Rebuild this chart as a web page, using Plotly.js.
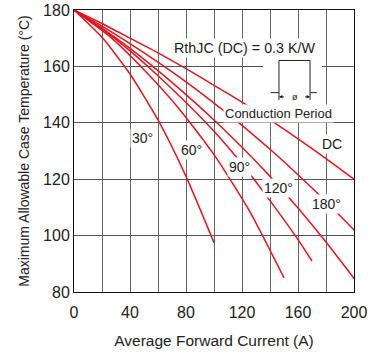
<!DOCTYPE html>
<html>
<head>
<meta charset="utf-8">
<script src="https://cdn.plot.ly/plotly-3.0.1.min.js"></script>
<style>
  html, body { margin: 0; padding: 0; background: #fff; }
  #chart { width: 368px; height: 353px; }
</style>
</head>
<body>
<div id="chart"></div>
<script>
// Average forward current (A) and max allowable case temperature (°C) per conduction angle
const x30 = [0, 20, 40, 60, 80, 100];
const y30 = [180, 170.3, 157.3, 141, 121, 97.5];

const x60 = [0, 25, 50, 75, 100, 125, 150];
const y60 = [180, 170.8, 158.8, 145, 128.7, 109, 85];

const x90 = [0, 20, 40, 60, 80, 100, 120, 140, 160, 170];
const y90 = [180, 173.3, 165.5, 156.7, 147.2, 137, 125.4, 112.4, 98.6, 91];

const x120 = [0, 20, 40, 60, 80, 100, 120, 140, 160, 180, 200];
const y120 = [180, 173.6, 166.4, 158.5, 150, 141, 131.3, 121, 109.8, 97.7, 84.8];

const x180 = [0, 20, 40, 60, 80, 100, 120, 140, 160, 180, 200];
const y180 = [180, 174.3, 168.1, 161.5, 154.5, 147, 139.1, 130.6, 121.6, 112.1, 102];

const xDC = [0, 20, 40, 60, 80, 100, 120, 140, 160, 180, 200];
const yDC = [180, 175.2, 170, 164.8, 159.2, 153.3, 147.3, 141, 134.3, 127.3, 120];

const seriesNames = ["30°", "60°", "90°", "120°", "180°", "DC"];
const xTicks = [0, 40, 80, 120, 160, 200];
const yTicks = [80, 100, 120, 140, 160, 180];

const curveColor = "#e2141f";
const font = "Liberation Sans, Arial, sans-serif";

const xs = [x30, x60, x90, x120, x180, xDC];
const ys = [y30, y60, y90, y120, y180, yDC];
const traces = xs.map((xv, i) => ({
  x: xv, y: ys[i], name: seriesNames[i], type: "scatter", mode: "lines",
  line: { color: curveColor, width: 1.5, shape: "spline", smoothing: 0.6 },
  hoverinfo: "skip"
}));

// label annotations (text with white boxes)
const labels = [
  { text: "30°", x: 48.6, y: 134.6 },
  { text: "60°", x: 83.6, y: 130.4 },
  { text: "90°", x: 117.9, y: 124.3 },
  { text: "120°", x: 146.4, y: 117 },
  { text: "180°", x: 180.5, y: 111.2 },
  { text: "DC", x: 184, y: 132.5 },
  { text: "RthJC (DC) = 0.3 K/W", x: 121.8, y: 166.4, size: 14.3 },
  { text: "Conduction Period", x: 146.4, y: 143.2, size: 13 }
];
const annotations = labels.map(l => ({
  x: l.x, y: l.y, xref: "x", yref: "y", text: l.text, showarrow: false,
  font: { family: font, size: l.size || 14, color: "#222" },
  bgcolor: "#ffffff", borderpad: 1, xanchor: "center", yanchor: "middle"
}));
// dimension arrows of the inset
[[151, 146.4], [164, 168.6]].forEach(([from, to]) => annotations.push({
  x: to, y: 149.2, ax: from, ay: 149.2, xref: "x", yref: "y", axref: "x", ayref: "y",
  text: "", showarrow: true, arrowhead: 2, arrowsize: 0.7, arrowwidth: 1, arrowcolor: "#222"
}));
annotations.push({
  x: 157.5, y: 149.2, xref: "x", yref: "y", text: "ø", showarrow: false,
  font: { family: font, size: 9, color: "#222" }, bgcolor: "#ffffff", borderpad: 0
});

const lineStyle = { color: "#222", width: 1 };
const shapes = [
  { type: "rect", xref: "x", yref: "y", x0: 135, x1: 177, y0: 146, y1: 164, fillcolor: "#fff", line: { width: 0 }, layer: "between" },
  { type: "line", xref: "x", yref: "y", x0: 146.4, x1: 146.4, y0: 148.1, y1: 162.1, line: lineStyle, layer: "above" },
  { type: "line", xref: "x", yref: "y", x0: 168.6, x1: 168.6, y0: 148.1, y1: 162.1, line: lineStyle, layer: "above" },
  { type: "line", xref: "x", yref: "y", x0: 146.4, x1: 168.6, y0: 162.1, y1: 162.1, line: lineStyle, layer: "above" },
  { type: "line", xref: "x", yref: "y", x0: 140.5, x1: 146.4, y0: 150.7, y1: 150.7, line: lineStyle, layer: "above" },
  { type: "line", xref: "x", yref: "y", x0: 168.6, x1: 173.4, y0: 150.7, y1: 150.7, line: lineStyle, layer: "above" }
];

const layout = {
  width: 368, height: 353,
  margin: { l: 74, r: 14, t: 10, b: 61 },
  paper_bgcolor: "#fff", plot_bgcolor: "#fff",
  showlegend: false,
  font: { family: font, color: "#222" },
  xaxis: {
    range: [0, 200], tickvals: xTicks, ticktext: xTicks.map(String),
    showgrid: true, gridcolor: "#666", gridwidth: 1,
    minor: { dtick: 20, tick0: 0, showgrid: true, gridcolor: "#666", gridwidth: 1 },
    showline: true, linecolor: "#111", linewidth: 1, mirror: true,
    ticks: "", zeroline: false, ticklabelstandoff: 6,
    tickfont: { family: font, size: 16, color: "#222" },
    title: { text: "Average Forward Current (A)", font: { family: font, size: 15.5, color: "#222" }, standoff: 14 }
  },
  yaxis: {
    range: [80, 180], tickvals: yTicks, ticktext: yTicks.map(String),
    showgrid: true, gridcolor: "#555", gridwidth: 1,
    showline: true, linecolor: "#111", linewidth: 1, mirror: true,
    ticks: "", zeroline: false,
    tickfont: { family: font, size: 16, color: "#222" },
    title: { text: "Maximum Allowable Case Temperature (°C)", font: { family: font, size: 14, color: "#222" }, standoff: 10 }
  },
  annotations: annotations,
  shapes: shapes
};

Plotly.newPlot("chart", traces, layout, { displayModeBar: false, staticPlot: true });
</script>
</body>
</html>
